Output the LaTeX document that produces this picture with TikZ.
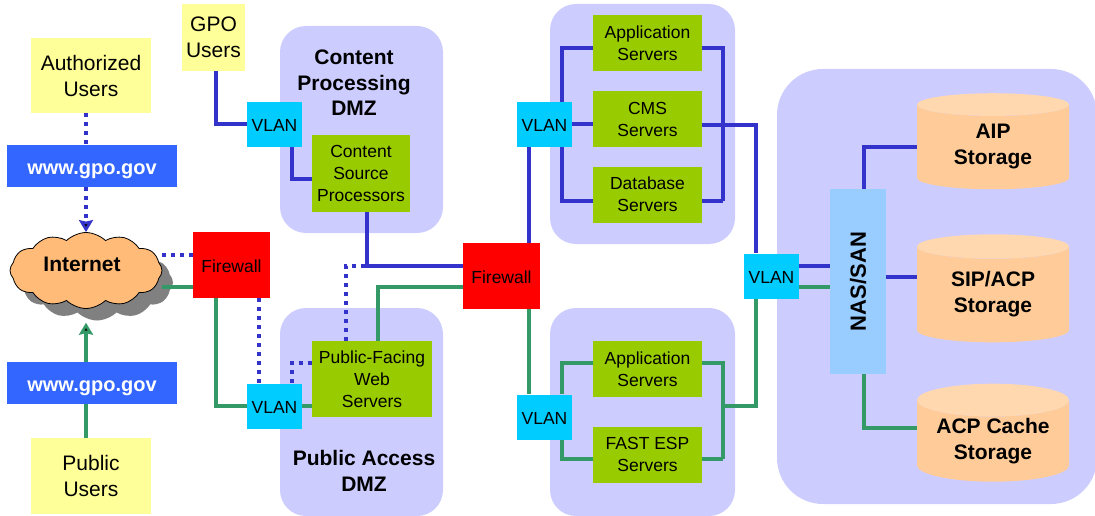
\documentclass[tikz,border=0pt]{standalone}
\usepackage{fontspec}
\setmainfont{Liberation Sans}
\usetikzlibrary{arrows.meta,shapes.geometric,shapes.symbols}
\definecolor{linkblue}{HTML}{3333CC}
\definecolor{linkgreen}{HTML}{339966}
\definecolor{zonepurple}{HTML}{CCCCFF}
\definecolor{usersyellow}{HTML}{FFFF99}
\definecolor{webblue}{HTML}{3366FF}
\definecolor{vlancyan}{HTML}{00CCFF}
\definecolor{servergreen}{HTML}{99CC00}
\definecolor{cloudorange}{HTML}{FFBB77}
\definecolor{storebody}{HTML}{FFCC99}
\definecolor{storeend}{HTML}{FFD8B0}
\definecolor{nasblue}{HTML}{99CCFF}
\begin{document}
\begin{tikzpicture}[x=1pt,y=-1pt,>={Stealth[length=12pt,width=14pt,inset=1.5pt]},
    box node/.style={rectangle,inner sep=0pt,align=center,font=\fontsize{17.5}{22}\selectfont,execute at begin node={\rule{0pt}{14.5pt}}},
    zone node/.style={rectangle,fill=zonepurple,rounded corners=26pt,inner sep=0pt},
    zone text/.style={inner sep=0pt,align=center,font=\fontsize{21}{25.5}\selectfont\bfseries},
    users node/.style={box node,fill=usersyellow,font=\fontsize{21}{26}\selectfont,execute at begin node={\rule{0pt}{21pt}}},
    web node/.style={box node,fill=webblue,text=white,minimum width=170pt,minimum height=42pt,font=\fontsize{20}{24}\selectfont\bfseries,execute at begin node={\rule{0pt}{22pt}}},
    vlan node/.style={box node,fill=vlancyan,minimum width=55pt,minimum height=45pt},
    firewall node/.style={box node,fill=red,minimum width=77pt,minimum height=66pt},
    server node/.style={box node,fill=servergreen,minimum width=109pt,minimum height=56pt,execute at begin node={\rule{0pt}{18pt}}},
    store node/.style={cylinder,shape border rotate=90,aspect=0.29,cylinder uses custom fill,cylinder body fill=storebody,cylinder end fill=storeend,
        inner sep=0pt,minimum width=152pt,align=center,font=\fontsize{21}{26}\selectfont\bfseries,execute at begin node={\rule{0pt}{21pt}}},
    cloud node/.style={cloud,cloud puffs=12,cloud puff arc=90,aspect=2.1,inner sep=0pt,minimum width=152pt,minimum height=76pt},
    blue link/.style={draw=linkblue,line width=4pt},
    green link/.style={draw=linkgreen,line width=4pt},
    dot link/.style={blue link,dash pattern=on 4pt off 5pt},
    hv/.style={to path={-| (\tikztotarget)}},
    vh/.style={to path={|- (\tikztotarget)}}]

            \useasboundingbox (0,0) rectangle (1095,516);

            \node[zone node,minimum width=163pt,minimum height=207pt] (zonea) at (361.5,129.5) {};
            \node[zone node,minimum width=163pt,minimum height=208pt] (zoneb) at (361.5,412) {};
            \node[zone node,minimum width=185pt,minimum height=240pt] (zonec) at (642.5,124) {};
            \node[zone node,minimum width=185pt,minimum height=208pt] (zoned) at (642.5,412) {};
            \node[zone node,rounded corners=46pt,minimum width=320pt,minimum height=435pt] (zonee) at (937,286.5) {};

            \node[users node,minimum width=120pt,minimum height=75pt] (authusers) at (91,75.5) {Authorized\\Users};
            \node[users node,minimum width=120pt,minimum height=76pt] (pubusers) at (91,476) {Public\\Users};
            \node[users node,minimum width=63pt,minimum height=67pt] (gpousers) at (213.5,37.5) {GPO\\Users};
            \node[web node] (weba) at (92,166) {www.gpo.gov};
            \node[web node] (webb) at (92,383) {www.gpo.gov};

            \node[cloud node,fill=gray] (shadow) at (97,282.5) {};
            \node[cloud node,draw=black,fill=cloudorange,line width=0.8pt] (internet) at (86,270.5) {};
            \node[zone text] (inettext) at (82,264) {Internet};

            \node[firewall node] (fwa) at (231.5,265) {Firewall};
            \node[firewall node] (fwb) at (501.5,276) {Firewall};

            \node[vlan node] (vlana) at (274.5,124.5) {VLAN};
            \node[vlan node] (vlanb) at (274.5,406) {VLAN};
            \node[vlan node] (vlanc) at (544.5,124.5) {VLAN};
            \node[vlan node] (vland) at (544.5,417) {VLAN};
            \node[vlan node] (vlane) at (771.5,276) {VLAN};

            \node[server node,minimum width=98pt,minimum height=77pt] (content) at (361,173.5) {Content\\Source\\Processors};
            \node[server node,minimum width=120pt,minimum height=76pt] (public) at (372,379) {Public-Facing\\Web\\Servers};
            \node[server node] (appa) at (647.5,43) {Application\\Servers};
            \node[server node] (cms) at (647.5,119) {CMS\\Servers};
            \node[server node] (dbase) at (647.5,194.5) {Database\\Servers};
            \node[server node] (appb) at (647.5,369) {Application\\Servers};
            \node[server node] (fast) at (647.5,454.5) {FAST ESP\\Servers};

            \node[zone text] (zonealabel) at (354,83) {Content\\Processing\\DMZ};
            \node[zone text] (zoneblabel) at (364,471) {Public Access\\DMZ};

            \node[box node,fill=nasblue,minimum width=56pt,minimum height=185pt] (nas) at (858,281.5) {};
            \node[zone text,rotate=90,font=\fontsize{22}{26}\selectfont\bfseries] (nastext) at (nas) {NAS/SAN};
            \node[store node,minimum height=96pt] (aip) at (993,147) {AIP\\Storage};
            \node[store node,minimum height=108pt] (sip) at (993,294.5) {SIP/ACP\\Storage};
            \node[store node,minimum height=98pt] (acp) at (993,441) {ACP Cache\\Storage};

            \path[blue link]
                ([xshift=2.5pt]gpousers.south) edge[vh] (vlana.west)
                ([xshift=17.5pt]vlana.south) edge[vh] ([yshift=-5.5pt]content.west)
                ([xshift=6pt]content.south) edge[vh] ([yshift=10pt]fwb.west)
                ([xshift=27.5pt]fwb.north) edge ([xshift=-15.5pt]vlanc.south)
                ([xshift=17.5pt]vlanc.north) edge[vh] ([yshift=-5pt]appa.west)
                ([xshift=17.5pt]vlanc.south) edge[vh] ([yshift=-6.5pt]dbase.west)
                (vlanc.east) edge (vlanc.east -| cms.west)
                ([yshift=-5pt]appa.east) edge[hv] ([yshift=-6.5pt,xshift=21pt]dbase.east)
                ([yshift=-6.5pt]dbase.east) edge ([yshift=-6.5pt,xshift=21pt]dbase.east)
                ([yshift=-6pt]cms.east) edge[hv] ([xshift=-15.5pt]vlane.north)
                ([yshift=10pt]vlane.east) edge ([yshift=10pt]vlane.east -| nas.west)
                ([xshift=6pt]nas.north) edge[vh] (aip.west)
                ([yshift=4.5pt]nas.east) edge ([yshift=4.5pt]nas.east -| sip.west)
            ;

            \path[green link]
                ([xshift=-5pt]pubusers.north) edge ([xshift=-6pt]webb.south)
                ([xshift=-6pt]webb.north) edge[->] ([yshift=-2pt]internet.south |- shadow.south)
                ([yshift=-16.5pt]internet.east) edge ([yshift=-22pt]fwa.west)
                ([xshift=-15.5pt]fwa.south) edge[vh] (vlanb.west)
                (vlanb.east) edge (vlanb.east -| public.west)
                ([xshift=6pt]public.north) edge[vh] ([yshift=-11pt]fwb.west)
                ([xshift=27.5pt]fwb.south) edge ([xshift=-15.5pt]vland.north)
                ([xshift=17.5pt]vland.north) edge[vh] ([yshift=6pt]appb.west)
                ([xshift=17.5pt]vland.south) edge[vh] ([yshift=-4.5pt]fast.west)
                ([yshift=6pt]appb.east) edge[hv] ([yshift=-4.5pt,xshift=21pt]fast.east)
                ([yshift=-4.5pt]fast.east) edge ([yshift=-4.5pt,xshift=21pt]fast.east)
                ([xshift=21pt,yshift=11pt]appb.east |- vland) edge[hv] ([xshift=-15.5pt]vlane.south)
                ([yshift=-11pt]vlane.east) edge ([yshift=-11pt]vlane.east -| nas.west)
                ([xshift=6pt]nas.south) edge[vh] ([yshift=13pt]acp.west)
            ;

            \path[dot link]
                ([xshift=-5pt]authusers.south) edge ([xshift=-6pt]weba.north)
                ([xshift=-6pt]weba.south) edge[->] (internet.north)
                ([yshift=15.5pt]internet.east) edge ([yshift=10pt]fwa.west)
                ([xshift=27.5pt]fwa.south) edge ([xshift=-15.5pt]vlanb.north)
                ([xshift=17.5pt]vlanb.north) edge[vh] ([yshift=16pt]public.west)
                ([xshift=-26pt]public.north) edge[vh] ([xshift=6pt,yshift=10pt]content.south |- fwb.west)
            ;
        \end{tikzpicture}
\end{document}
